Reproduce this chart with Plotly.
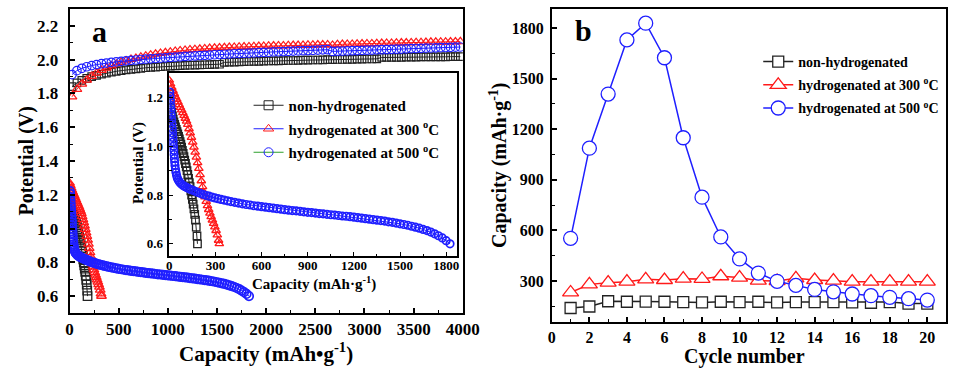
import plotly.graph_objects as go

W, H = 966, 368

# ---------------- panel a: charge / discharge profiles ----------------
charge_capacity = [
    25, 75, 125, 175, 225, 275, 325, 375, 425, 475,
    525, 575, 625, 675, 725, 775, 825, 875, 925, 975,
    1025, 1075, 1125, 1175, 1225, 1275, 1325, 1375, 1425, 1475,
    1525, 1575, 1625, 1675, 1725, 1775, 1825, 1875, 1925, 1975,
    2025, 2075, 2125, 2175, 2225, 2275, 2325, 2375, 2425, 2475,
    2525, 2575, 2625, 2675, 2725, 2775, 2825, 2875, 2925, 2975,
    3025, 3075, 3125, 3175, 3225, 3275, 3325, 3375, 3425, 3475,
    3525, 3575, 3625, 3675, 3725, 3775, 3825, 3875, 3925, 3975,
]
charge_non = [
    1.840, 1.862, 1.877, 1.889, 1.899, 1.907, 1.914, 1.920, 1.926, 1.931,
    1.935, 1.939, 1.943, 1.946, 1.949, 1.952, 1.954, 1.956, 1.958, 1.960,
    1.962, 1.963, 1.965, 1.966, 1.967, 1.968, 1.969, 1.970, 1.971, 1.972,
    1.973, 1.984, 1.985, 1.986, 1.987, 1.988, 1.989, 1.990, 1.990, 1.991,
    1.992, 1.993, 1.993, 1.994, 1.995, 1.995, 1.996, 1.997, 1.997, 1.998,
    1.998, 1.999, 2.000, 2.000, 2.001, 2.001, 2.002, 2.002, 2.003, 2.003,
    2.004, 2.004, 2.005, 2.013, 2.013, 2.014, 2.014, 2.014, 2.015, 2.015,
    2.015, 2.016, 2.016, 2.016, 2.017, 2.017, 2.017, 2.018, 2.018, 2.018,
]
charge_h300 = [
    1.780, 1.825, 1.856, 1.880, 1.902, 1.921, 1.937, 1.951, 1.964, 1.975,
    1.985, 1.994, 2.002, 2.009, 2.016, 2.022, 2.028, 2.033, 2.038, 2.042,
    2.046, 2.050, 2.053, 2.056, 2.059, 2.061, 2.063, 2.065, 2.067, 2.069,
    2.070, 2.072, 2.073, 2.074, 2.075, 2.076, 2.077, 2.078, 2.079, 2.080,
    2.081, 2.082, 2.083, 2.083, 2.084, 2.085, 2.085, 2.086, 2.087, 2.087,
    2.088, 2.088, 2.089, 2.086, 2.090, 2.091, 2.092, 2.092, 2.093, 2.094,
    2.095, 2.095, 2.096, 2.097, 2.098, 2.098, 2.099, 2.100, 2.100, 2.101,
    2.102, 2.102, 2.103, 2.104, 2.104, 2.105, 2.105, 2.106, 2.106, 2.107,
]
charge_h500 = [
    1.912, 1.935, 1.949, 1.958, 1.965, 1.971, 1.976, 1.980, 1.984, 1.987,
    1.990, 1.993, 1.996, 1.998, 2.001, 2.003, 2.005, 2.007, 2.009, 2.011,
    2.013, 2.015, 2.017, 2.019, 2.021, 2.022, 2.024, 2.026, 2.027, 2.029,
    2.030, 2.032, 2.033, 2.035, 2.036, 2.038, 2.039, 2.040, 2.042, 2.043,
    2.044, 2.046, 2.047, 2.048, 2.049, 2.051, 2.052, 2.053, 2.054, 2.055,
    2.057, 2.058, 2.059, 2.049, 2.050, 2.051, 2.052, 2.053, 2.054, 2.055,
    2.056, 2.057, 2.058, 2.059, 2.060, 2.061, 2.062, 2.063, 2.064, 2.065,
    2.066, 2.067, 2.068, 2.069, 2.070, 2.071, 2.072, 2.073, 2.074, 2.075,
]

dis_cap_non = [
    0, 5, 10, 15, 20, 25, 30, 35, 40, 45, 50, 55, 60, 65, 70, 75, 80, 85, 90,
    95, 100, 105, 110, 115, 120, 125, 130, 135, 140, 145, 150, 155, 160, 165,
    170, 175, 180, 183,
]
dis_v_non = [
    1.215, 1.185, 1.160, 1.140, 1.124, 1.111, 1.100, 1.089, 1.079, 1.069,
    1.060, 1.050, 1.040, 1.030, 1.019, 1.008, 0.996, 0.983, 0.970, 0.957,
    0.943, 0.929, 0.915, 0.900, 0.884, 0.868, 0.851, 0.834, 0.817, 0.800,
    0.782, 0.763, 0.743, 0.721, 0.697, 0.668, 0.632, 0.600,
]

dis_cap_h300 = [
    0, 8, 16, 24, 32, 40, 48, 56, 64, 72, 80, 88, 96, 104, 112, 120, 128, 136,
    144, 152, 160, 168, 176, 184, 192, 200, 208, 216, 224, 232, 240, 248, 256,
    264, 272, 280, 288, 296, 304, 312, 320, 325,
]
dis_v_h300 = [
    1.270, 1.255, 1.240, 1.227, 1.215, 1.203, 1.192, 1.181, 1.170, 1.159,
    1.148, 1.137, 1.126, 1.114, 1.102, 1.089, 1.071, 1.054, 1.036, 1.016,
    0.996, 0.975, 0.955, 0.932, 0.909, 0.883, 0.858, 0.834, 0.812, 0.792,
    0.773, 0.756, 0.740, 0.725, 0.711, 0.697, 0.683, 0.669, 0.654, 0.636,
    0.614, 0.600,
]

dis_cap_h500 = [
    3, 5, 7, 9, 11, 13, 15, 17, 19, 21, 23, 25, 27, 29, 31, 33, 35, 37, 40, 43,
    47, 52, 58, 65, 73, 82, 92, 103, 115, 128, 142, 157, 172, 188, 205, 222,
    240, 258, 277, 296, 316, 336, 356, 378, 400, 425, 450, 475, 500, 525, 550,
    575, 600, 625, 650, 675, 700, 725, 750, 775, 800, 825, 850, 875, 900, 925,
    950, 975, 1000, 1025, 1050, 1075, 1100, 1125, 1150, 1175, 1200, 1225, 1250,
    1275, 1300, 1325, 1350, 1375, 1400, 1425, 1450, 1475, 1500, 1525, 1550,
    1575, 1600, 1625, 1650, 1675, 1700, 1725, 1750, 1775, 1800, 1825,
]
dis_v_h500 = [
    1.222, 1.205, 1.186, 1.167, 1.148, 1.129, 1.110, 1.091, 1.072, 1.054,
    1.036, 1.018, 1.000, 0.983, 0.966, 0.950, 0.935, 0.921, 0.906, 0.893,
    0.881, 0.870, 0.861, 0.854, 0.848, 0.843, 0.838, 0.834, 0.830, 0.826,
    0.822, 0.818, 0.814, 0.810, 0.806, 0.802, 0.798, 0.795, 0.791, 0.788,
    0.785, 0.782, 0.779, 0.776, 0.773, 0.770, 0.767, 0.764, 0.761, 0.759,
    0.756, 0.754, 0.752, 0.750, 0.748, 0.746, 0.744, 0.742, 0.740, 0.738,
    0.736, 0.735, 0.733, 0.731, 0.729, 0.728, 0.726, 0.724, 0.723, 0.721,
    0.719, 0.718, 0.716, 0.714, 0.713, 0.711, 0.709, 0.707, 0.705, 0.703,
    0.701, 0.699, 0.697, 0.695, 0.693, 0.690, 0.688, 0.685, 0.682, 0.679,
    0.676, 0.672, 0.668, 0.664, 0.659, 0.654, 0.648, 0.641, 0.633, 0.624,
    0.613, 0.600,
]

# ---------------- panel b: cycling ----------------
cycles = list(range(1, 21))
cyc_non = [140, 149, 180, 177, 178, 177, 175, 173, 177, 175,
           177, 173, 175, 175, 175, 173, 171, 175, 166, 166]
cyc_h300 = [232, 280, 290, 296, 310, 306, 314, 312, 328, 320,
            302, 300, 316, 306, 302, 296, 296, 296, 296, 296]
cyc_h500 = [553, 1087, 1408, 1729, 1828, 1623, 1149, 797, 561, 431,
            347, 298, 274, 250, 236, 223, 213, 203, 195, 187]

labels = ["non-hydrogenated",
          "hydrogenated at 300 <sup>o</sup>C",
          "hydrogenated at 500 <sup>o</sup>C"]

BLACK, RED, BLUE, GREEN = "#222222", "#ff1a1a", "#1f1fff", "#2ca02c"
FONT = "Liberation Serif"


def px_x(p):
    return p / W


def px_y(p):
    return 1 - p / H


fig = go.Figure()

# main panel a: charge then discharge curves
for y, col, sym, sz in [(charge_non, BLACK, "square-open", 7.5),
                        (charge_h300, RED, "triangle-up-open", 8.5),
                        (charge_h500, BLUE, "circle-open", 8.5)]:
    fig.add_trace(go.Scatter(
        x=charge_capacity, y=y, mode="lines+markers", xaxis="x", yaxis="y",
        line=dict(color=col, width=1),
        marker=dict(symbol=sym, size=sz, color=col, line=dict(width=1.2)),
        showlegend=False))

discharge = [(dis_cap_non, dis_v_non, BLACK, "square-open", 1.3),
             (dis_cap_h300, dis_v_h300, RED, "triangle-up-open", 1.3),
             (dis_cap_h500, dis_v_h500, BLUE, "circle-open", 1.7)]
for cx, cy, col, sym, mw in discharge:
    fig.add_trace(go.Scatter(
        x=cx, y=cy, mode="lines+markers", xaxis="x", yaxis="y",
        line=dict(color=col, width=1),
        marker=dict(symbol=sym, size=8.5, color=col, line=dict(width=mw)),
        showlegend=False))

# inset: discharge curves magnified
for cx, cy, col, sym, mw in discharge:
    fig.add_trace(go.Scatter(
        x=cx, y=cy, mode="lines+markers", xaxis="x3", yaxis="y3",
        line=dict(color=col, width=1),
        marker=dict(symbol=sym, size=7.5, color=col, line=dict(width=mw)),
        showlegend=False))

# inset legend entries
for name, lcol, mcol, sym in [(labels[0], BLACK, BLACK, "square-open"),
                              (labels[1], BLUE, RED, "triangle-up-open"),
                              (labels[2], GREEN, BLUE, "circle-open")]:
    fig.add_trace(go.Scatter(
        x=[None], y=[None], mode="lines+markers", xaxis="x3", yaxis="y3",
        name=name, legend="legend", legendgroup=name,
        line=dict(color=lcol, width=1),
        marker=dict(symbol=sym, size=9, color=mcol, line=dict(width=1))))

# panel b: capacity vs cycle number
for y, col, sym, sz, name in [(cyc_non, BLACK, "square", 11, labels[0]),
                              (cyc_h300, RED, "triangle-up", 14, labels[1]),
                              (cyc_h500, BLUE, "circle", 14, labels[2])]:
    fig.add_trace(go.Scatter(
        x=cycles, y=y, mode="lines+markers", xaxis="x2", yaxis="y2",
        name=name, legend="legend2", legendgroup=name + "b",
        line=dict(color=col, width=1.5),
        marker=dict(symbol=sym, size=sz, color="white",
                    line=dict(color=col, width=1.3))))

axis_common = dict(
    showline=True, linewidth=2, linecolor="black", mirror=True,
    ticks="inside", ticklen=5, tickwidth=1.5, tickcolor="black",
    showgrid=False, zeroline=False,
    tickfont=dict(family=FONT, size=17, color="black", weight="bold"),
)
b_common = dict(axis_common)
b_common.update(tickfont=dict(family=FONT, size=16, color="black",
                              weight="bold"))
inset_common = dict(axis_common)
inset_common.update(linewidth=1.6, ticklen=4, tickwidth=1.2,
                    tickfont=dict(family=FONT, size=13, color="black",
                                  weight="bold"))
minor = dict(ticks="inside", ticklen=3, tickwidth=1.2, tickcolor="black")
legend_font = dict(family=FONT, color="black", weight="bold")

fig.update_layout(
    width=W, height=H, margin=dict(l=0, r=0, t=0, b=0),
    paper_bgcolor="white", plot_bgcolor="white",
    xaxis=dict(axis_common, domain=[px_x(67), px_x(469)], range=[0, 4000],
               dtick=500, tick0=0, anchor="y", ticklabelstandoff=0,
               minor=dict(minor, dtick=250)),
    yaxis=dict(axis_common, domain=[px_y(313), px_y(9)], range=[0.5, 2.3],
               dtick=0.2, tick0=0.6, tickformat=".1f", anchor="x",
               ticklabelstandoff=6, minor=dict(minor, dtick=0.1)),
    xaxis3=dict(inset_common, domain=[px_x(169), px_x(463)], range=[0, 1870],
                dtick=300, tick0=0, anchor="y3", ticklabelstandoff=-3,
                minor=dict(minor, dtick=150, ticklen=2.5)),
    yaxis3=dict(inset_common, domain=[px_y(256), px_y(73)], range=[0.55, 1.30],
                dtick=0.2, tick0=0.6, tickformat=".1f", anchor="x3",
                ticklabelstandoff=2, minor=dict(minor, dtick=0.1, ticklen=2.5)),
    xaxis2=dict(b_common, domain=[px_x(560), px_x(963)], range=[0, 21],
                dtick=2, tick0=0, anchor="y2", ticklabelstandoff=0,
                minor=dict(minor, dtick=1)),
    yaxis2=dict(b_common, domain=[px_y(322), px_y(9)], range=[57, 1912],
                dtick=300, tick0=300, anchor="x2", ticklabelstandoff=3,
                minor=dict(minor, dtick=150)),
    legend=dict(x=px_x(250), y=px_y(89), xanchor="left", yanchor="top",
                bgcolor="rgba(0,0,0,0)", tracegroupgap=1,
                font=dict(legend_font, size=15)),
    legend2=dict(x=px_x(771), y=px_y(46), xanchor="left", yanchor="top",
                 bgcolor="rgba(0,0,0,0)", tracegroupgap=2,
                 font=dict(legend_font, size=14)),
)

ann_font = dict(family=FONT, color="black", weight="bold")
annotations = [
    ("a", 98, 32, 30, 0),
    ("b", 592, 30, 30, 0),
    ("Potential (V)", 22, 161, 20, -90),
    ("Capacity (mAh\u2022g<sup>-1</sup>)", 268, 352, 21, 0),
    ("Potential (V)", 137, 163, 15, -90),
    ("Capacity (mAh\u00b7g<sup>-1</sup>)", 317, 283, 15, 0),
    ("Capacity (mAh\u00b7g<sup>-1</sup>)", 505, 165, 20, -90),
    ("Cycle number", 757, 356, 20, 0),
]
for text, x, y, size, angle in annotations:
    fig.add_annotation(text=text, x=px_x(x), y=px_y(y), xref="paper",
                       yref="paper", showarrow=False, textangle=angle,
                       xanchor="center", yanchor="middle",
                       font=dict(ann_font, size=size))

fig.write_html("out.html")
